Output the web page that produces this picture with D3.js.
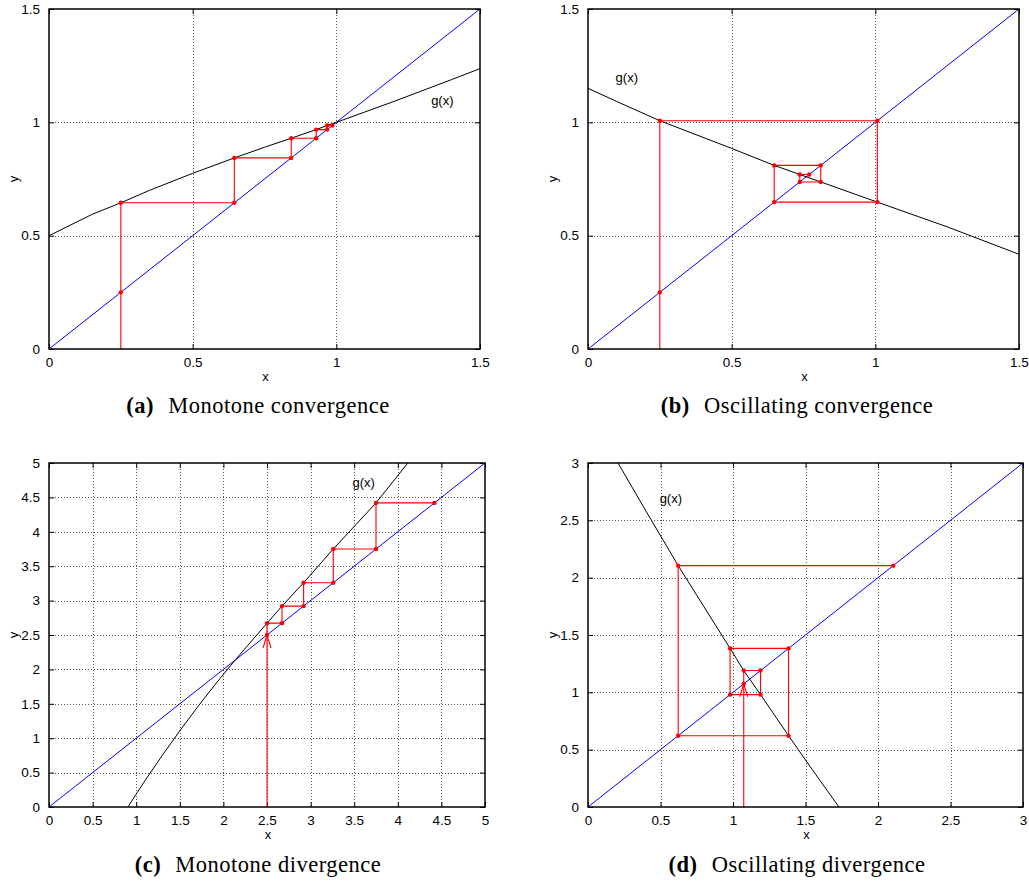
<!DOCTYPE html>
<html lang="en">
<head>
<meta charset="UTF-8">
<title>Fixed-point iteration</title>
<script src="https://d3js.org/d3.v7.min.js"></script>
<style>
  body { margin: 0; background: #fff; }
  svg text { font-family: "Liberation Sans", Arial, sans-serif; fill: #000; }
  .axis-label, .g-label { font-size: 13px; }
  .caption { font-family: "Liberation Serif", "Times New Roman", serif !important; font-size: 22.5px; letter-spacing: 0.5px; }
</style>
</head>
<body>
<div id="chart"></div>
<script>
// tick values (same on both axes of a panel)
var ticksAB = [0, 0.5, 1, 1.5];
var ticksC = [0, 0.5, 1, 1.5, 2, 2.5, 3, 3.5, 4, 4.5, 5];
var ticksD = [0, 0.5, 1, 1.5, 2, 2.5, 3];

// g(x)
var gA_x = [0, 0.15, 0.25, 0.35, 0.5, 0.645, 0.75, 0.843, 0.93, 0.968, 1.0, 1.2, 1.4, 1.5];
var gA_y = [0.5, 0.594, 0.645, 0.70, 0.775, 0.843, 0.89, 0.93, 0.968, 0.986, 1.0, 1.092, 1.188, 1.237];

var gB_x = [0, 0.1, 0.25, 0.5, 0.648, 0.737, 0.81, 1.007, 1.25, 1.5];
var gB_y = [1.15, 1.092, 1.007, 0.885, 0.81, 0.77, 0.737, 0.648, 0.539, 0.418];

var gC_x = [0.904, 1.1, 1.3, 1.5, 1.7, 1.9, 2.14, 2.5, 2.672, 2.92, 3.26, 3.75, 4.115];
var gC_y = [0, 0.382, 0.752, 1.108, 1.448, 1.772, 2.144, 2.672, 2.92, 3.26, 3.75, 4.42, 5];

var gD_x = [0.207, 0.4, 0.622, 0.98, 1.074, 1.19, 1.383, 1.55, 1.731];
var gD_y = [3, 2.58, 2.105, 1.383, 1.19, 0.98, 0.622, 0.32, 0];

// iterates x0, x1 = g(x0), ...
var iterA = [0.25, 0.645, 0.843, 0.93, 0.968, 0.986];
var iterB = [0.25, 1.007, 0.648, 0.81, 0.737, 0.77];
var iterC = [2.5, 2.672, 2.92, 3.26, 3.75, 4.42];
var iterD = [1.074, 1.19, 0.98, 1.383, 0.622, 2.105];

// where the "g(x)" text sits (data units, left/middle)
var labelA = [1.33, 1.095];
var labelB = [0.096, 1.196];
var labelC = [3.48, 4.72];
var labelD = [0.494, 2.687];

var captions = ["Monotone convergence", "Oscillating convergence", "Monotone divergence", "Oscillating divergence"];
var tags = ["(a)", "(b)", "(c)", "(d)"];

var W = 1029, H = 886;

var panels = [
  { max: 1.5, ticks: ticksAB, gx: gA_x, gy: gA_y, iter: iterA, label: labelA, arrow: false,
    box: { left: 49, right: 480, top: 9, bottom: 349 }, cap: [258, 413] },
  { max: 1.5, ticks: ticksAB, gx: gB_x, gy: gB_y, iter: iterB, label: labelB, arrow: false,
    box: { left: 588, right: 1019, top: 9, bottom: 349 }, cap: [797, 413] },
  { max: 5, ticks: ticksC, gx: gC_x, gy: gC_y, iter: iterC, label: labelC, arrow: true,
    box: { left: 49, right: 485, top: 463, bottom: 807 }, cap: [258, 872] },
  { max: 3, ticks: ticksD, gx: gD_x, gy: gD_y, iter: iterD, label: labelD, arrow: true,
    box: { left: 588, right: 1023, top: 463, bottom: 807 }, cap: [797, 872] }
];

var svg = d3.select("#chart").append("svg")
    .attr("width", W).attr("height", H);

panels.forEach(function(p, i) {
  var b = p.box;
  var x = d3.scaleLinear().domain([0, p.max]).range([b.left, b.right]);
  var y = d3.scaleLinear().domain([0, p.max]).range([b.bottom, b.top]);
  var g = svg.append("g");

  // dotted grid on the inner ticks
  var inner = p.ticks.slice(1, -1);
  g.selectAll(".vgrid").data(inner).enter().append("line")
    .attr("x1", function(d) { return Math.round(x(d)) + 0.5; })
    .attr("x2", function(d) { return Math.round(x(d)) + 0.5; })
    .attr("y1", b.top).attr("y2", b.bottom)
    .attr("stroke", "#555").attr("stroke-dasharray", "1,2");
  g.selectAll(".hgrid").data(inner).enter().append("line")
    .attr("y1", function(d) { return Math.round(y(d)) + 0.5; })
    .attr("y2", function(d) { return Math.round(y(d)) + 0.5; })
    .attr("x1", b.left).attr("x2", b.right)
    .attr("stroke", "#555").attr("stroke-dasharray", "1,2");

  // axes, ticks pointing inward on all four sides
  var fmt = function(d) { return String(d); };
  g.append("g").attr("transform", "translate(0," + b.bottom + ")")
    .call(d3.axisBottom(x).tickValues(p.ticks).tickFormat(fmt).tickSize(-5).tickPadding(8));
  g.append("g").attr("transform", "translate(" + b.left + ",0)")
    .call(d3.axisLeft(y).tickValues(p.ticks).tickFormat(fmt).tickSize(-5).tickPadding(9));
  g.append("g").attr("transform", "translate(0," + b.top + ")")
    .call(d3.axisTop(x).tickValues(p.ticks).tickFormat("").tickSize(-5));
  g.append("g").attr("transform", "translate(" + b.right + ",0)")
    .call(d3.axisRight(y).tickValues(p.ticks).tickFormat("").tickSize(-5));
  g.selectAll(".domain").remove();
  g.selectAll(".tick line").attr("stroke", "#000");
  g.selectAll(".tick text").attr("fill", "#000").style("font-size", "13.5px");

  var clipId = "clip" + i;
  g.append("clipPath").attr("id", clipId).append("rect")
    .attr("x", b.left).attr("y", b.top)
    .attr("width", b.right - b.left).attr("height", b.bottom - b.top);
  var plot = g.append("g").attr("clip-path", "url(#" + clipId + ")");

  var line = d3.line().x(function(d) { return x(d[0]); }).y(function(d) { return y(d[1]); });

  // y = x
  plot.append("path").datum([[0, 0], [p.max, p.max]])
    .attr("d", line).attr("fill", "none").attr("stroke", "#0000ff").attr("stroke-width", 1);

  // g(x)
  plot.append("path").datum(d3.zip(p.gx, p.gy))
    .attr("d", line).attr("fill", "none").attr("stroke", "#000").attr("stroke-width", 1);

  // cobweb
  var it = p.iter;
  var pts = [[it[0], 0]];
  for (var k = 0; k < it.length - 1; k++) {
    pts.push([it[k], it[k + 1]]);
    pts.push([it[k + 1], it[k + 1]]);
  }
  plot.append("path").datum(pts)
    .attr("d", line).attr("fill", "none").attr("stroke", "#ff0000").attr("stroke-width", 1.1);

  if (p.arrow) {
    var tx = x(it[0]), ty = y(it[0]);
    plot.append("path")
      .attr("d", "M" + (tx - 4) + "," + (ty + 13) + "L" + tx + "," + ty + "L" + (tx + 4) + "," + (ty + 13))
      .attr("fill", "none").attr("stroke", "#ff0000").attr("stroke-width", 1.1);
  }

  var dots = [[it[0], it[0]]].concat(pts.slice(1));
  plot.selectAll(".dot").data(dots).enter().append("circle")
    .attr("cx", function(d) { return x(d[0]); })
    .attr("cy", function(d) { return y(d[1]); })
    .attr("r", 2.2).attr("fill", "#ff0000");

  // frame
  g.append("rect")
    .attr("x", b.left).attr("y", b.top)
    .attr("width", b.right - b.left).attr("height", b.bottom - b.top)
    .attr("fill", "none").attr("stroke", "#000").attr("stroke-width", 1.5);

  // labels
  g.append("text").attr("class", "g-label")
    .attr("x", x(p.label[0])).attr("y", y(p.label[1]))
    .attr("dy", "0.35em").text("g(x)");
  g.append("text").attr("class", "axis-label")
    .attr("x", (b.left + b.right) / 2 + 1).attr("y", b.bottom + 32)
    .attr("text-anchor", "middle").text("x");
  g.append("text").attr("class", "axis-label")
    .attr("transform", "translate(" + (b.left - 31) + "," + ((b.top + b.bottom) / 2) + ") rotate(-90)")
    .attr("text-anchor", "middle").text("y");

  var cap = g.append("text").attr("class", "caption")
    .attr("x", p.cap[0]).attr("y", p.cap[1]).attr("text-anchor", "middle");
  cap.append("tspan").attr("font-weight", "bold").text(tags[i]);
  cap.append("tspan").attr("dx", 8).text(" " + captions[i]);
});
</script>
</body>
</html>
